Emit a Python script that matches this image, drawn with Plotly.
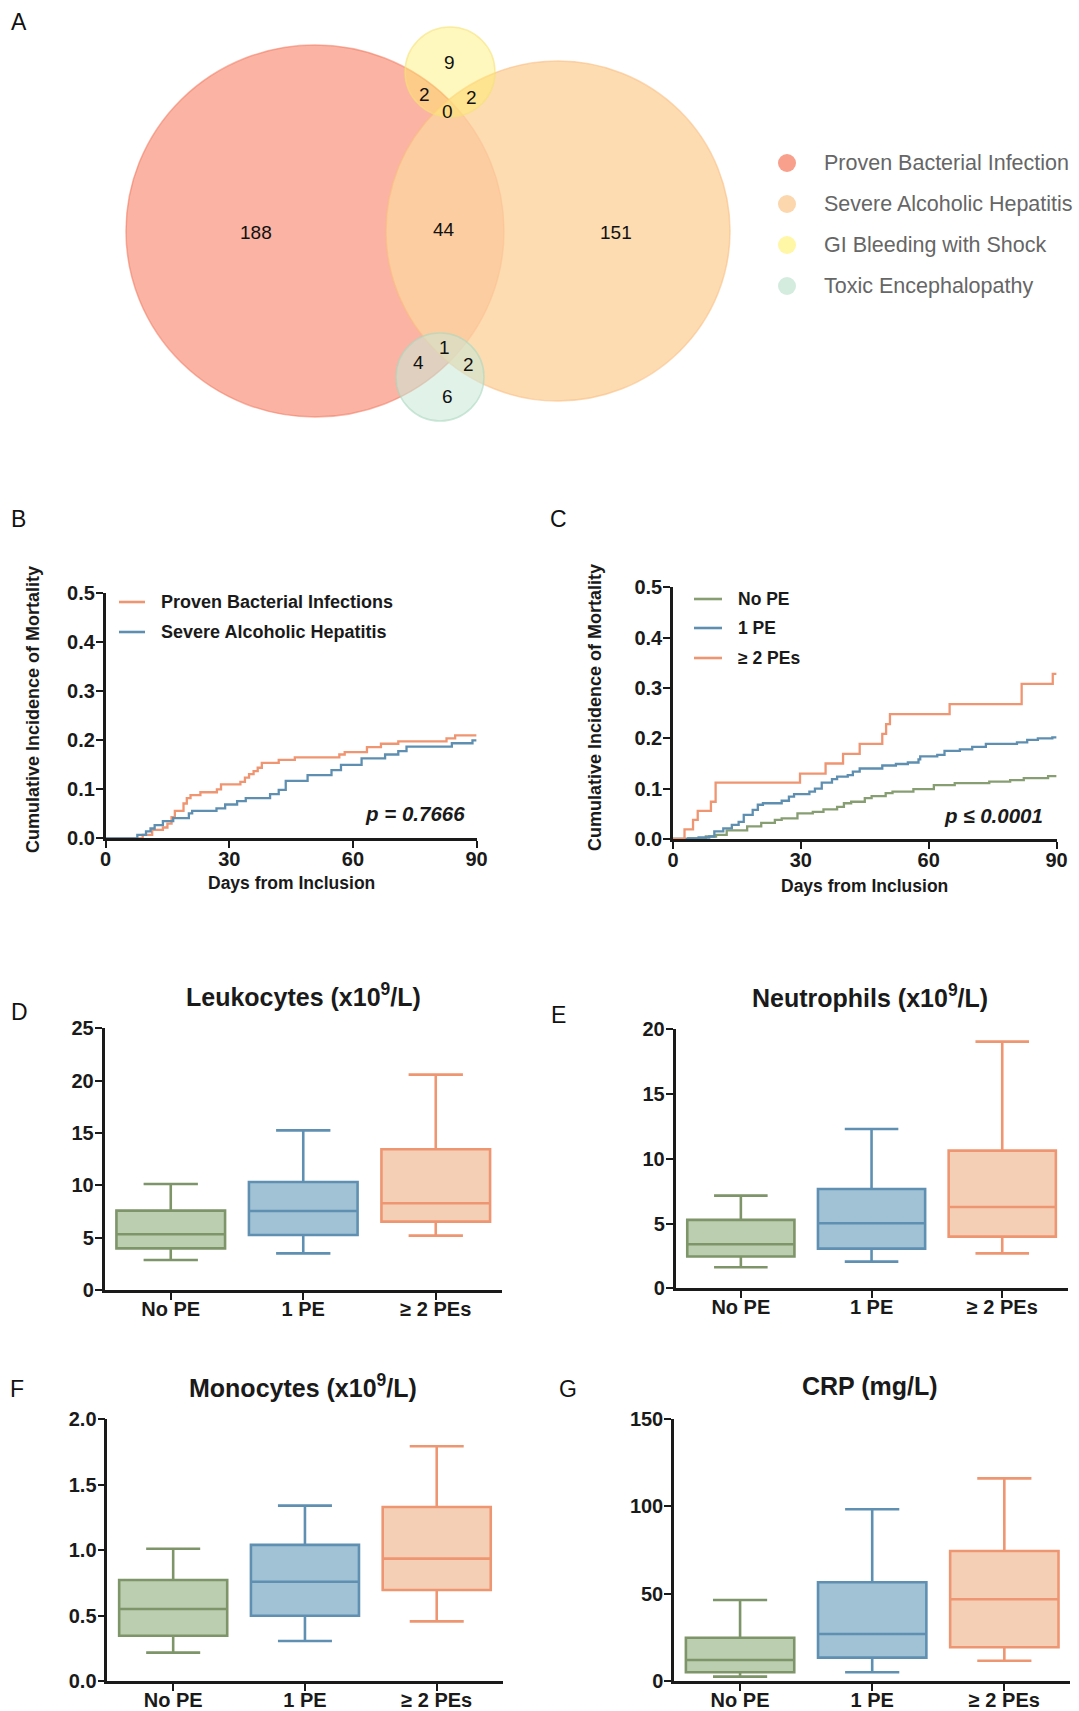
import plotly.graph_objects as go

W, H = 1079, 1711
FONT = "Liberation Sans, Arial, sans-serif"
INK = "#1a1a1a"

# ---------------- Panel A : Venn data ----------------
venn_sets = ["Proven Bacterial Infection", "Severe Alcoholic Hepatitis",
             "GI Bleeding with Shock", "Toxic Encephalopathy"]
venn_fill = ["rgba(250,160,140,0.8)", "rgba(252,211,159,0.8)",
             "rgba(255,239,99,0.42)", "rgba(200,232,215,0.55)"]
venn_edge = ["rgba(240,120,95,0.55)", "rgba(250,190,130,0.6)",
             "rgba(245,225,120,0.6)", "rgba(170,215,190,0.6)"]
venn_key = ["rgb(248,160,140)", "rgb(252,214,172)", "rgb(255,247,165)", "rgb(212,236,222)"]
# ellipse geometry (cx, cy, rx, ry) in the diagram's own pixel frame
venn_geom = [(315, 231, 189, 186), (558, 231, 172, 170), (450, 72, 45, 45), (440, 377, 44, 44)]
venn_counts = [188, 44, 151, 9, 2, 2, 0, 4, 1, 2, 6]
venn_count_pos = [(256, 232), (444, 229), (616, 232), (449, 62), (424, 94), (471, 97),
                  (447, 111), (418, 362), (444, 347), (468, 364), (447, 396)]

# ---------------- Panel B : KM by condition ----------------
b_pbi_days = [0, 9.0, 11.3, 13.9, 15.0, 16.0, 16.8, 18.9, 19.7, 20.6, 23.0, 27.0, 28.0, 32.7,
              33.8, 34.8, 35.9, 36.9, 37.9, 42.0, 45.9, 56.7, 58.0, 63.4, 66.8, 71.0, 82.7, 84.8, 90]
b_pbi_vals = [0, 0.007, 0.017, 0.022, 0.030, 0.043, 0.056, 0.071, 0.082, 0.088, 0.094, 0.100,
              0.110, 0.115, 0.124, 0.131, 0.137, 0.144, 0.154, 0.160, 0.165, 0.171, 0.176,
              0.186, 0.193, 0.198, 0.204, 0.210, 0.210]
b_sah_days = [0, 7.7, 9.8, 10.9, 11.9, 13.9, 16.4, 20.2, 21.0, 26.9, 29.0, 31.9, 34.0, 39.9,
              42.0, 43.7, 49.0, 54.8, 57.1, 62.1, 67.8, 71.0, 73.0, 84.0, 89.0, 90]
b_sah_vals = [0, 0.007, 0.014, 0.020, 0.027, 0.035, 0.041, 0.051, 0.056, 0.061, 0.069, 0.076,
              0.082, 0.090, 0.099, 0.117, 0.129, 0.139, 0.150, 0.163, 0.171, 0.178, 0.187,
              0.194, 0.200, 0.200]
b_names = ["Proven Bacterial Infections", "Severe Alcoholic Hepatitis"]
b_pvalue = "p = 0.7666"

# ---------------- Panel C : KM by number of PEs ----------------
c_no_days = [0, 3.6, 7.7, 10.1, 12.6, 17.4, 20.7, 23.9, 25.5, 29.2, 32.8, 35.3, 38.5, 40.1,
             41.8, 45.0, 46.6, 49.9, 51.5, 56.4, 61.2, 66.1, 74.2, 79.1, 82.3, 88.0, 90]
c_no_vals = [0, 0.001, 0.005, 0.008, 0.017, 0.025, 0.032, 0.038, 0.041, 0.051, 0.054, 0.059,
             0.064, 0.071, 0.074, 0.081, 0.085, 0.091, 0.094, 0.099, 0.107, 0.111, 0.114,
             0.117, 0.121, 0.125, 0.125]
c_one_days = [0, 3.6, 6.0, 8.5, 9.7, 11.8, 13.8, 15.4, 16.6, 18.7, 19.9, 21.1, 25.5, 27.2,
              28.4, 32.0, 33.3, 34.9, 37.3, 38.5, 41.0, 42.2, 43.8, 49.1, 52.3, 55.1, 57.6,
              58.0, 62.0, 63.7, 67.3, 70.2, 73.4, 80.7, 83.1, 85.6, 89.0, 90]
c_one_vals = [0, 0.001, 0.003, 0.005, 0.015, 0.021, 0.028, 0.034, 0.048, 0.058, 0.068, 0.071,
              0.076, 0.084, 0.089, 0.094, 0.100, 0.112, 0.119, 0.124, 0.127, 0.134, 0.140,
              0.146, 0.149, 0.152, 0.158, 0.164, 0.167, 0.175, 0.178, 0.183, 0.189, 0.192,
              0.197, 0.200, 0.202, 0.202]
c_two_days = [0, 2.7, 4.7, 5.8, 8.9, 10.0, 29.8, 35.8, 39.9, 43.8, 49.1, 50.0, 50.9, 64.9,
              81.8, 89.1, 90]
c_two_vals = [0, 0.019, 0.038, 0.056, 0.074, 0.112, 0.130, 0.150, 0.169, 0.189, 0.209, 0.228,
              0.248, 0.268, 0.308, 0.328, 0.328]
c_names = ["No PE", "1 PE", "\u2265 2 PEs"]
c_pvalue = "p \u2264 0.0001"

# ---------------- Panels D-G : box plots ----------------
groups = ["No PE", "1 PE", "\u2265 2 PEs"]
leuko = dict(lo=[2.87, 3.50, 5.19], q1=[3.98, 5.25, 6.53], med=[5.32, 7.55, 8.28],
             q3=[7.58, 10.32, 13.44], hi=[10.13, 15.25, 20.57])
neutro = dict(lo=[1.62, 2.06, 2.70], q1=[2.45, 3.06, 3.99], med=[3.40, 5.02, 6.28],
              q3=[5.28, 7.67, 10.63], hi=[7.16, 12.30, 19.05])
mono = dict(lo=[0.217, 0.306, 0.456], q1=[0.346, 0.499, 0.696], med=[0.550, 0.759, 0.935],
            q3=[0.772, 1.040, 1.330], hi=[1.011, 1.340, 1.794])
crp = dict(lo=[2.5, 5.0, 11.6], q1=[5.0, 13.4, 19.3], med=[12.0, 26.9, 46.8],
           q3=[24.8, 56.5, 74.4], hi=[46.4, 98.3, 116.0])

grp_line = ["#7e9469", "#5f90b2", "#ee9672"]
grp_fill = ["#bbceb0", "#a1c1d4", "#f5cfb5"]
km_col = ["#879e73", "#5e8fb1", "#ef9572"]


def px(x):
    return x / W


def py(y):
    return 1 - y / H


fig = go.Figure()
annotations = []
shapes = []


def note(x, y, text, size, color=INK, xanchor="center", ref="paper", angle=0):
    if ref == "paper":
        xx, yy, xr, yr = px(x), py(y), "paper", "paper"
    else:
        xx, yy, xr, yr = x, y, "x", "y"
    annotations.append(dict(xref=xr, yref=yr, x=xx, y=yy, text=text, showarrow=False,
                            xanchor=xanchor, yanchor="middle", textangle=angle,
                            font=dict(family=FONT, size=size, color=color)))


# ---- Panel A ----
for (cx, cy, rx, ry), fc, lc in zip(venn_geom, venn_fill, venn_edge):
    shapes.append(dict(type="circle", xref="x", yref="y", x0=cx - rx, x1=cx + rx,
                       y0=cy - ry, y1=cy + ry, fillcolor=fc, line=dict(color=lc, width=1.5),
                       layer="below"))
for n, (x, y) in zip(venn_counts, venn_count_pos):
    note(x, y, str(n), 19, "#111111", ref="data")
key_y = [163, 204, 245, 286]
fig.add_trace(go.Scatter(x=[787] * 4, y=key_y, mode="markers", xaxis="x", yaxis="y",
                         marker=dict(size=18, color=venn_key), showlegend=False,
                         hoverinfo="skip"))
for name, y in zip(venn_sets, key_y):
    note(822, y, name, 21.5, "#666666", xanchor="left", ref="data")

# ---- Panel B ----
fig.add_trace(go.Scatter(x=b_pbi_days, y=b_pbi_vals, mode="lines", line_shape="hv",
                         line=dict(color=km_col[2], width=2.3), name=b_names[0],
                         xaxis="x2", yaxis="y2", showlegend=False))
fig.add_trace(go.Scatter(x=b_sah_days, y=b_sah_vals, mode="lines", line_shape="hv",
                         line=dict(color=km_col[1], width=2.3), name=b_names[1],
                         xaxis="x2", yaxis="y2", showlegend=False))

# ---- Panel C ----
for d, v, col, nm in [(c_no_days, c_no_vals, km_col[0], c_names[0]),
                      (c_one_days, c_one_vals, km_col[1], c_names[1]),
                      (c_two_days, c_two_vals, km_col[2], c_names[2])]:
    fig.add_trace(go.Scatter(x=d, y=v, mode="lines", line_shape="hv",
                             line=dict(color=col, width=2.3), name=nm,
                             xaxis="x3", yaxis="y3", showlegend=False))

# ---- Box panels ----
box_panels = [(leuko, "x4", "y4"), (neutro, "x5", "y5"), (mono, "x6", "y6"), (crp, "x7", "y7")]
for data, xa, ya in box_panels:
    for i, g in enumerate(groups):
        fig.add_trace(go.Box(x=[g], q1=[data["q1"][i]], median=[data["med"][i]],
                             q3=[data["q3"][i]], lowerfence=[data["lo"][i]],
                             upperfence=[data["hi"][i]], fillcolor=grp_fill[i],
                             line=dict(color=grp_line[i], width=2.6), width=0.82,
                             whiskerwidth=0.5, boxpoints=False, name=g, showlegend=False,
                             xaxis=xa, yaxis=ya))

# ---- axes ----
tickfont = dict(family=FONT, size=20, color=INK, weight="bold")
common = dict(showline=True, linewidth=2.5, linecolor=INK, ticks="outside", ticklen=7,
              tickwidth=2.2, tickcolor=INK, showgrid=False, zeroline=False, tickfont=tickfont,
              automargin=False)
xcommon = dict(common, ticklabelstandoff=-6)
ycommon = dict(common, ticklabelstandoff=-3)

layout_axes = {}
layout_axes["xaxis"] = dict(domain=[0, 1], range=[0, W], visible=False, fixedrange=True,
                            automargin=False)
layout_axes["yaxis"] = dict(domain=[py(440), 1], range=[440, 0], visible=False, fixedrange=True,
                            automargin=False)

# KM axes
layout_axes["xaxis2"] = dict(xcommon, domain=[px(105.6), px(476.6)], range=[0, 90],
                             tickvals=[0, 30, 60, 90], anchor="y2")
layout_axes["yaxis2"] = dict(ycommon, domain=[py(838.3), py(593.3)], range=[0, 0.5],
                             tickvals=[0, 0.1, 0.2, 0.3, 0.4, 0.5], tickformat=".1f", anchor="x2")
layout_axes["xaxis3"] = dict(xcommon, domain=[px(673), px(1056.6)], range=[0, 90],
                             tickvals=[0, 30, 60, 90], anchor="y3")
layout_axes["yaxis3"] = dict(ycommon, domain=[py(839), py(587.3)], range=[0, 0.5],
                             tickvals=[0, 0.1, 0.2, 0.3, 0.4, 0.5], tickformat=".1f", anchor="x3")

# box axes
box_dom = {
    4: ([px(104.5), px(502)], [py(1290), py(1028.3)], [0, 25], 5, None),
    5: ([px(675.5), px(1067.6)], [py(1288.3), py(1029.3)], [0, 20], 5, None),
    6: ([px(107.3), px(502.6)], [py(1681), py(1419.3)], [0, 2], 0.5, ".1f"),
    7: ([px(674), px(1070.4)], [py(1681), py(1419)], [0, 150], 50, None),
}
for k, (xd, yd, yr, dt, fmt) in box_dom.items():
    layout_axes[f"xaxis{k}"] = dict(xcommon, domain=xd, range=[-0.5, 2.5], type="category",
                                    categoryorder="array", categoryarray=groups,
                                    anchor=f"y{k}", ticklabelstandoff=-8)
    ya = dict(ycommon, domain=yd, range=yr, dtick=dt, tick0=0, anchor=f"x{k}")
    if fmt:
        ya["tickformat"] = fmt
    layout_axes[f"yaxis{k}"] = ya


# ---- KM legends (glyph + text) ----
def legend_line(x0, x1, y, col):
    shapes.append(dict(type="line", xref="paper", yref="paper", x0=px(x0), x1=px(x1),
                       y0=py(y), y1=py(y), line=dict(color=col, width=2.6)))


for (y, col, nm) in [(602, km_col[2], b_names[0]), (632, km_col[1], b_names[1])]:
    legend_line(119, 145, y, col)
    note(159, y, f"<b>{nm}</b>", 18, xanchor="left")
for (y, col, nm) in [(599, km_col[0], c_names[0]), (628, km_col[1], c_names[1]),
                     (658, km_col[2], c_names[2])]:
    legend_line(694, 722, y, col)
    note(736, y, f"<b>{nm}</b>", 17.5, xanchor="left")

# p-values
note(467, 814, f"<b><i>{b_pvalue}</i></b>", 20.5, xanchor="right")
note(1045, 815, f"<b><i>{c_pvalue}</i></b>", 20.5, xanchor="right")

# axis titles for KM panels
note(33, 710, "<b>Cumulative Incidence of Mortality</b>", 18, angle=-90)
note(291, 883, "<b>Days from Inclusion</b>", 17.5)
note(595, 708, "<b>Cumulative Incidence of Mortality</b>", 18, angle=-90)
note(864, 886, "<b>Days from Inclusion</b>", 17.5)

# box panel titles
note(303, 995, "<b>Leukocytes (x10<sup>9</sup>/L)</b>", 25)
note(870, 996, "<b>Neutrophils (x10<sup>9</sup>/L)</b>", 25)
note(303, 1386, "<b>Monocytes (x10<sup>9</sup>/L)</b>", 25)
note(870, 1386, "<b>CRP (mg/L)</b>", 25)

# panel letters
for (x, y, t) in [(19, 22, "A"), (18, 519, "B"), (558, 519, "C"), (19, 1012, "D"),
                  (558, 1015, "E"), (17, 1389, "F"), (568, 1389, "G")]:
    note(x, y, t, 23, "#111111")

fig.update_layout(width=W, height=H, margin=dict(l=0, r=0, t=0, b=0, pad=0, autoexpand=False),
                  paper_bgcolor="white", plot_bgcolor="white", showlegend=False,
                  annotations=annotations, shapes=shapes, **layout_axes)

fig.write_html("out.html", config={"displayModeBar": False},
               post_script="document.body.style.margin='0';document.body.style.overflow='hidden';")
